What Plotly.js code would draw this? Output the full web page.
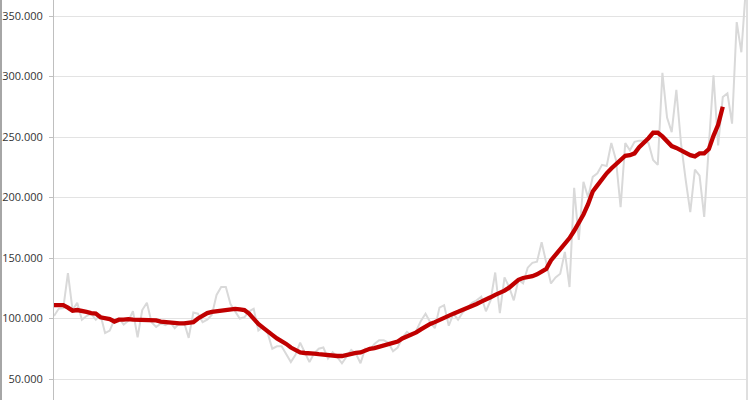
<!DOCTYPE html>
<html>
<head>
<meta charset="utf-8">
<script src="https://cdn.plot.ly/plotly-3.0.1.min.js"></script>
<style>
html,body{margin:0;padding:0;background:#fff;}
#chart{width:750px;height:400px;}
</style>
</head>
<body>
<div id="chart"></div>
<script>
// Monthly raw values (grey) and smoothed trend (red), in thousands
const rawValues = [
 102,108,108.5,137.5,107,113,99,102,104,99,
 103,88,90,99,100,95,98,106,84.5,107,
 113,97,93,96,94.5,97,92,96,97,84,
 105,104,97,99,103,119.5,126,126,112,106,
 100,101,106,108,90,93,88,75,77,77,
 70,64,70,80,72,64,71,75,76,67,
 72,68,63,69,74,71,63,75,74,79,
 82,82,80,73,76,84,89,86,90,98,
 104,97,92,109,111,94,104,99,105,109,
 113,115,118,106,115,138,104.5,134,126,115,
 132,129,142,146,147,163,145,129,134,137,
 155,126,208,165,213,200,217,220,227,226,
 245,231,192,245,239,246,247,247,245,231,
 227,303,266,254,289,245,215,188,223,218,
 184,240,301,243,283,286,261,345,320,375
];
const trendValues = [
 111,111,111,109,106.5,107,106.5,105.5,104.5,104,
 101,100,99.5,97.5,99,99,99.5,99,99,99,
 98.5,98.5,98.5,97.5,97,97,96.5,96,96,96.5,
 97,100,102.5,104.5,105.5,106,106.5,107,107.5,108,
 107.5,107,104,99.5,95.5,92.5,89,86.5,83.5,81.5,
 79,76,73.5,72,71.5,71.5,71,70.5,70,69.5,
 69.5,69,69,70,70.5,71.5,72,73.5,75,75.5,
 76.5,77.5,79,79.5,81,83.5,85,86.5,88.5,91,
 93.5,95.5,97,99,100.5,102,104,105.5,107,108.5,
 110.5,112,114,115.5,117.5,119.5,121,123,125.5,128.5,
 132,133.5,134,135,136.5,138.5,141,148,152.5,156.5,
 161,166.5,172.5,179,186,194.5,205,210,215.5,220,
 224,227.5,232,234.5,235,236.5,241.5,245,249,253.5,
 253.5,250.5,247,242.5,241,239,236.5,235,234,236.5,
 236.5,240,251,260,275
];
const yTicks = [50000,100000,150000,200000,250000,300000,350000];

const months = rawValues.map((_, i) => i);
const rawY = rawValues.map(v => v * 1000);
const trendX = trendValues.map((_, i) => i);
const trendY = trendValues.map(v => v * 1000);

const traces = [
  {x: months, y: rawY, type: 'scatter', mode: 'lines',
   line: {color: '#d9d9d9', width: 2}, hoverinfo: 'skip', showlegend: false},
  {x: trendX, y: trendY, type: 'scatter', mode: 'lines',
   line: {color: '#c00000', width: 4.3}, hoverinfo: 'skip', showlegend: false}
];

const layout = {
  width: 750, height: 400,
  margin: {l: 54, r: 4, t: 0, b: 0, pad: 0},
  paper_bgcolor: '#ffffff', plot_bgcolor: '#ffffff',
  separators: ',.',
  showlegend: false,
  font: {family: '"Open Sans", "DejaVu Sans", sans-serif', size: 11, color: '#333333'},
  xaxis: {visible: false, range: [0, rawValues.length - 1], fixedrange: true},
  yaxis: {
    range: [32645, 363223],
    tickvals: yTicks, tickformat: ',d',
    showgrid: true, gridcolor: '#e3e3e3', gridwidth: 1,
    zeroline: false,
    showline: true, linecolor: '#bfbfbf', linewidth: 1,
    ticks: 'outside', ticklen: 4, tickcolor: '#bfbfbf',
    ticklabelstandoff: 4,
    tickfont: {size: 11, color: '#333333'}
  },
  shapes: [
    {type: 'line', xref: 'paper', yref: 'paper', x0: -53/692, x1: -53/692, y0: 0, y1: 1,
     line: {color: '#a6a6a6', width: 2}},
    {type: 'line', xref: 'paper', yref: 'paper', x0: 693/692, x1: 693/692, y0: 0, y1: 1,
     line: {color: '#bfbfbf', width: 1}}
  ]
};

Plotly.newPlot('chart', traces, layout, {staticPlot: true, displayModeBar: false});
</script>
</body>
</html>
